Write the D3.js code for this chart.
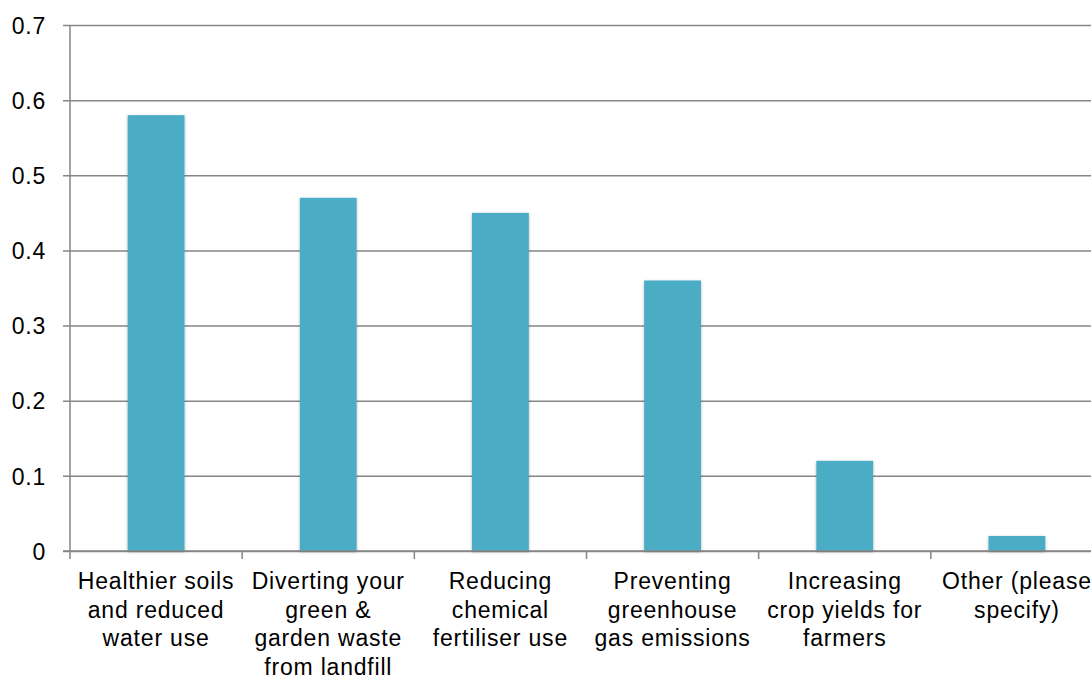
<!DOCTYPE html>
<html>
<head>
<meta charset="utf-8">
<script src="https://cdn.jsdelivr.net/npm/d3@7"></script>
<style>
  html, body { margin: 0; padding: 0; background: #fff; overflow: hidden; }
  svg { display: block; font-family: "Liberation Sans", Arial, sans-serif; }
</style>
</head>
<body>
<script>
// Survey benefits and the share of respondents choosing each one
const categories = [
  "Healthier soils and reduced water use",
  "Diverting your green & garden waste from landfill",
  "Reducing chemical fertiliser use",
  "Preventing greenhouse gas emissions",
  "Increasing crop yields for farmers",
  "Other (please specify)"
];
const labelLines = [
  ["Healthier soils", "and reduced", "water use"],
  ["Diverting your", "green &", "garden waste", "from landfill"],
  ["Reducing", "chemical", "fertiliser use"],
  ["Preventing", "greenhouse", "gas emissions"],
  ["Increasing", "crop yields for", "farmers"],
  ["Other (please", "specify)"]
];
const values = [0.58, 0.47, 0.45, 0.36, 0.12, 0.02];
const yTicks = [0, 0.1, 0.2, 0.3, 0.4, 0.5, 0.6, 0.7];

const W = 1091, H = 677;
const margin = { left: 70, top: 25, bottom: 126 };
const plotRight = 1103;
const axisColor = "#868686";
const barColor = "#4BACC6";

const svg = d3.select("body").append("svg")
  .attr("width", W).attr("height", H);

const defs = svg.append("defs");
const shadow = defs.append("filter").attr("id", "barShadow")
  .attr("x", "-20%").attr("y", "-20%").attr("width", "140%").attr("height", "140%");
shadow.append("feDropShadow")
  .attr("dx", 0).attr("dy", 1).attr("stdDeviation", 1.6)
  .attr("flood-color", "#000").attr("flood-opacity", 0.3);

const x = d3.scaleBand()
  .domain(categories)
  .range([margin.left, plotRight])
  .paddingInner(0.67).paddingOuter(0.335);

const y = d3.scaleLinear()
  .domain([0, 0.7])
  .range([H - margin.bottom, margin.top]);

// Horizontal gridlines and y-axis labels
const yAxis = d3.axisLeft(y)
  .tickValues(yTicks)
  .tickFormat(d => d === 0 ? "0" : d3.format(".1f")(d))
  .tickSize(-(plotRight - margin.left))
  .tickPadding(0);

const gy = svg.append("g")
  .attr("transform", `translate(${margin.left},0)`)
  .call(yAxis);
gy.select(".domain").remove();
gy.selectAll(".tick line")
  .attr("x1", -7)
  .attr("stroke", axisColor)
  .attr("stroke-width", 1.5);
gy.selectAll(".tick text")
  .attr("x", -24)
  .attr("dy", "0.36em")
  .attr("fill", "#000")
  .style("font-size", "23px")
  .style("letter-spacing", "0.8px")
  .style("font-family", "'Liberation Sans', Arial, sans-serif");

// Vertical axis line
svg.append("line")
  .attr("x1", margin.left).attr("x2", margin.left)
  .attr("y1", y(0.7)).attr("y2", y(0))
  .attr("stroke", axisColor).attr("stroke-width", 1.5);

// Category boundary ticks below the baseline
const step = x.step();
const boundaries = d3.range(categories.length + 1).map(i => margin.left + i * step);
svg.append("g").selectAll("line")
  .data(boundaries)
  .join("line")
  .attr("x1", d => d).attr("x2", d => d)
  .attr("y1", y(0)).attr("y2", y(0) + 8)
  .attr("stroke", axisColor).attr("stroke-width", 1.5);

// Bars
svg.append("g").selectAll("rect")
  .data(values)
  .join("rect")
  .attr("x", (d, i) => x(categories[i]))
  .attr("y", d => y(d))
  .attr("width", x.bandwidth())
  .attr("height", d => y(0) - y(d))
  .attr("fill", barColor)
  .attr("filter", "url(#barShadow)");

// Baseline drawn over the bars' shadows
svg.append("line")
  .attr("x1", margin.left - 7).attr("x2", plotRight)
  .attr("y1", y(0)).attr("y2", y(0))
  .attr("stroke", axisColor).attr("stroke-width", 1.5);

// Wrapped category labels
const labels = svg.append("g")
  .attr("font-size", "23px")
  .attr("letter-spacing", "0.8px")
  .attr("text-anchor", "middle")
  .attr("fill", "#000");
labelLines.forEach((lines, i) => {
  const cx = x(categories[i]) + x.bandwidth() / 2;
  const t = labels.append("text")
    .attr("x", cx)
    .attr("y", y(0) + 38);
  lines.forEach((ln, j) => {
    t.append("tspan")
      .attr("x", cx)
      .attr("dy", j === 0 ? 0 : 28.5)
      .text(ln);
  });
});
</script>
</body>
</html>
